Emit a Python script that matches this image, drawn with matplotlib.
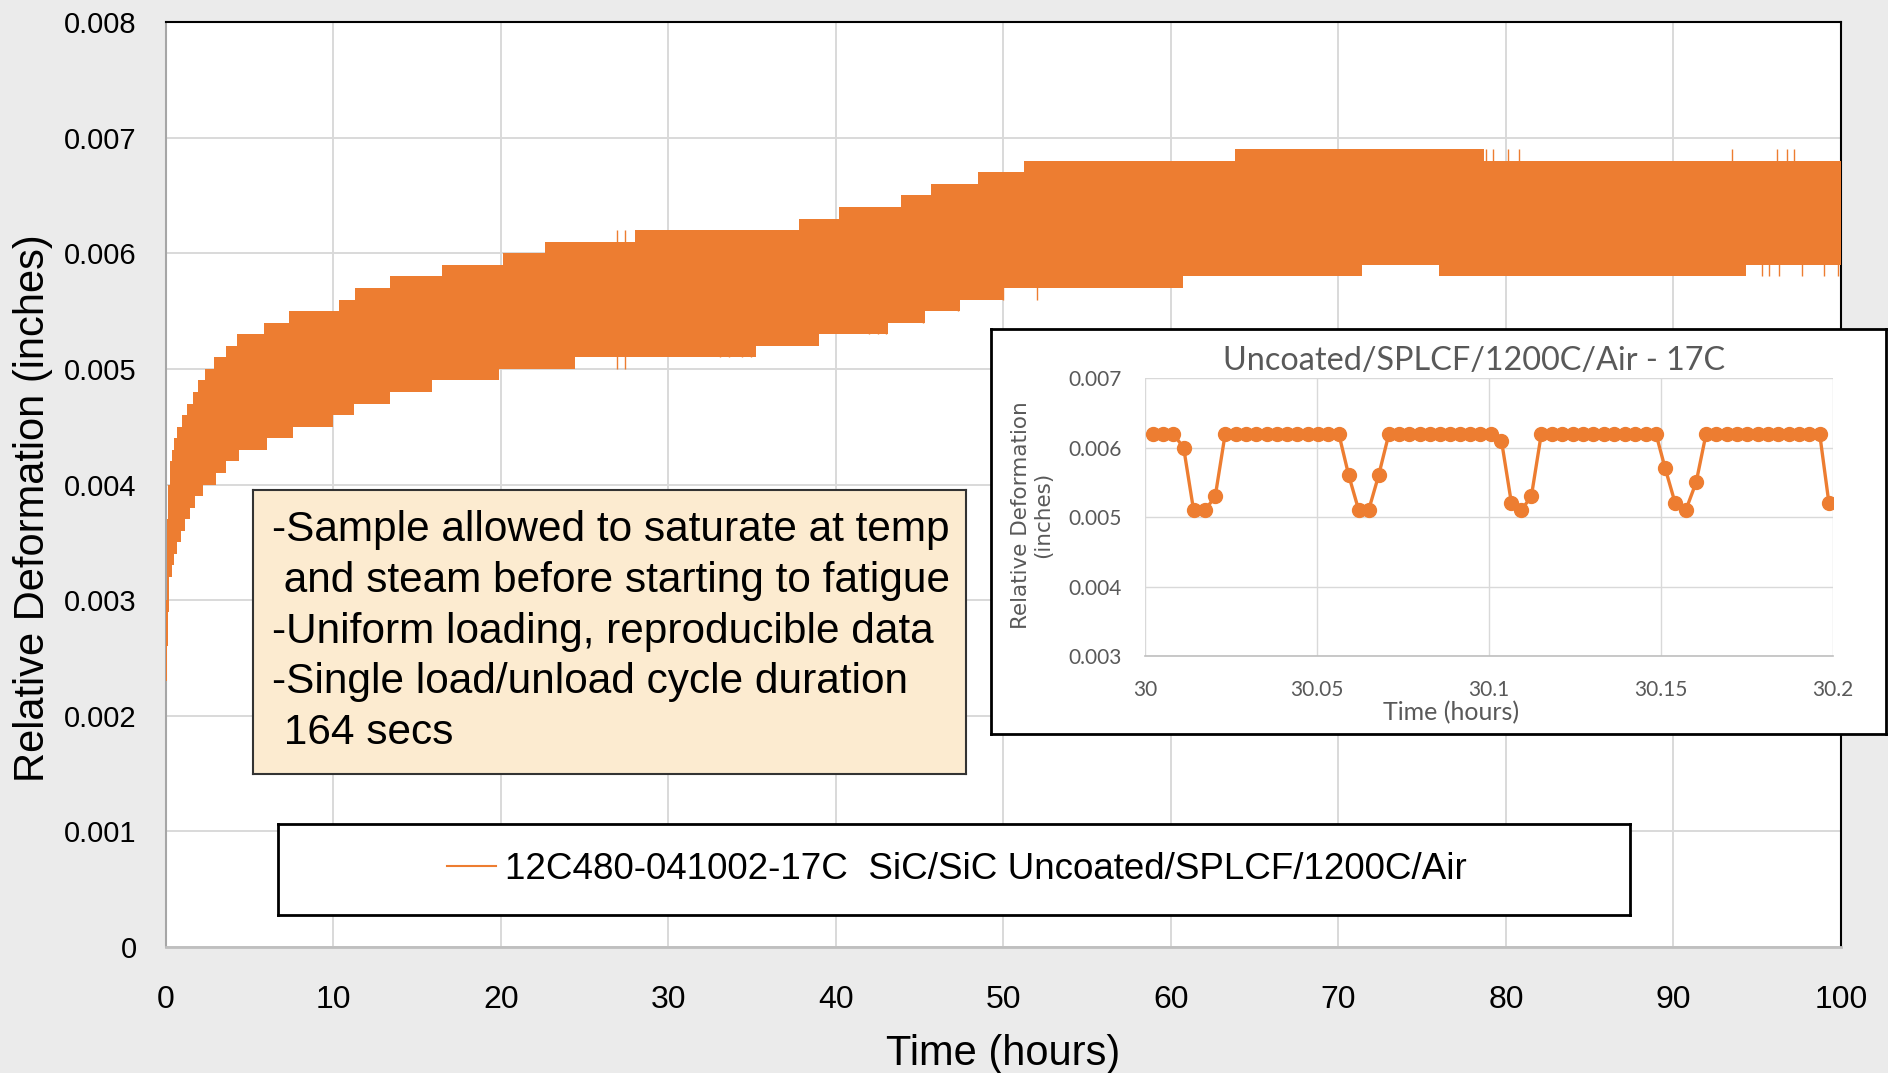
import numpy as np
import matplotlib.pyplot as plt
from matplotlib.lines import Line2D

# ── Hauptdiagramm: Hüllkurven des Bandes (Stufen) ──
upper_t = [0, 0.03, 0.08, 0.15, 0.25, 0.35, 0.5, 0.64, 0.94, 1.23, 1.59, 1.93,
           2.33, 2.88, 3.58, 4.22, 5.85, 7.36, 10.34, 11.28, 13.4, 16.5, 20.1,
           22.6, 28.0, 37.8, 40.2, 43.9, 45.7, 48.5, 51.2, 63.8, 78.7]
upper_v = [0.0023, 0.0030, 0.0037, 0.0040, 0.0042, 0.0043, 0.0044, 0.0045,
           0.0046, 0.0047, 0.0048, 0.0049, 0.0050, 0.0051, 0.0052, 0.0053,
           0.0054, 0.0055, 0.0056, 0.0057, 0.0058, 0.0059, 0.0060, 0.0061,
           0.0062, 0.0063, 0.0064, 0.0065, 0.0066, 0.0067, 0.0068, 0.0069, 0.0068]

lower_t = [0, 0.03, 0.08, 0.14, 0.2, 0.34, 0.5, 0.64, 0.88, 1.13, 1.43, 1.73,
           2.23, 2.96, 3.58, 4.38, 6.05, 7.56, 9.98, 11.2, 13.4, 15.9, 19.9,
           24.4, 35.2, 39.0, 43.1, 45.3, 47.4, 50.0, 60.7, 71.4, 76.0, 94.3]
lower_v = [0.0, 0.0023, 0.0026, 0.0029, 0.0032, 0.0033, 0.0034, 0.0035,
           0.0036, 0.0037, 0.0038, 0.0039, 0.0040, 0.0041, 0.0042, 0.0043,
           0.0044, 0.0045, 0.0046, 0.0047, 0.0048, 0.0049, 0.0050, 0.0051,
           0.0052, 0.0053, 0.0054, 0.0055, 0.0056, 0.0057, 0.0058, 0.0059,
           0.0058, 0.0059]

# einzelne Ausreißer-Zyklen (dünne Spitzen über/unter dem Band)
spike_t = [26.9, 27.4, 33.1, 33.6, 34.4, 34.9, 42.0, 42.5, 43.0, 45.2, 47.3,
           50.0, 52.0, 78.8, 79.2, 80.1, 80.8, 93.5, 96.2, 96.8, 97.2,
           95.3, 95.7, 96.3, 97.7, 99.0, 99.8]
spike_lo = [0.0050, 0.0050, 0.0051, 0.0051, 0.0051, 0.0051, 0.0053, 0.0053,
            0.0053, 0.0054, 0.0055, 0.0056, 0.0056, 0.0060, 0.0060, 0.0060,
            0.0060, 0.0060, 0.0060, 0.0060, 0.0060,
            0.0058, 0.0058, 0.0058, 0.0058, 0.0058, 0.0058]
spike_hi = [0.0062, 0.0062, 0.0062, 0.0062, 0.0062, 0.0062, 0.0064, 0.0064,
            0.0064, 0.0065, 0.0066, 0.0067, 0.0068, 0.0069, 0.0069, 0.0069,
            0.0069, 0.0069, 0.0069, 0.0069, 0.0069,
            0.0066, 0.0066, 0.0066, 0.0066, 0.0066, 0.0066]

t_end = 100.0
x_ticks = [0, 10, 20, 30, 40, 50, 60, 70, 80, 90, 100]
y_ticks = [0, 0.001, 0.002, 0.003, 0.004, 0.005, 0.006, 0.007, 0.008]
y_ticklabels = ["0", "0.001", "0.002", "0.003", "0.004", "0.005", "0.006",
                "0.007", "0.008"]

# ── Inset: 30.0 – 30.2 h ──
inset_t = [30.0022, 30.0052, 30.0081, 30.0112, 30.0141, 30.0175, 30.0204,
           30.0233, 30.0263, 30.0293, 30.0323, 30.0353, 30.0383, 30.0413,
           30.0443, 30.0473, 30.0503, 30.0533, 30.0563,
           30.0592, 30.0621, 30.0650, 30.0679,
           30.0709, 30.0739, 30.0768, 30.0798, 30.0827, 30.0857, 30.0887,
           30.0916, 30.0946, 30.0975, 30.1005,
           30.1036, 30.1065, 30.1094, 30.1123,
           30.1152, 30.1182, 30.1212, 30.1243, 30.1273, 30.1303, 30.1334,
           30.1364, 30.1394, 30.1424, 30.1455, 30.1485,
           30.1512, 30.1541, 30.1572, 30.1602,
           30.1631, 30.1661, 30.1691, 30.1721, 30.1751, 30.1781, 30.1811,
           30.1841, 30.1871, 30.1901, 30.1931, 30.1961,
           30.1988]
inset_v = [0.0062, 0.0062, 0.0062, 0.0060, 0.0051, 0.0051, 0.0053,
           0.0062, 0.0062, 0.0062, 0.0062, 0.0062, 0.0062, 0.0062,
           0.0062, 0.0062, 0.0062, 0.0062, 0.0062,
           0.0056, 0.0051, 0.0051, 0.0056,
           0.0062, 0.0062, 0.0062, 0.0062, 0.0062, 0.0062, 0.0062,
           0.0062, 0.0062, 0.0062, 0.0062,
           0.0061, 0.0052, 0.0051, 0.0053,
           0.0062, 0.0062, 0.0062, 0.0062, 0.0062, 0.0062, 0.0062,
           0.0062, 0.0062, 0.0062, 0.0062, 0.0062,
           0.0057, 0.0052, 0.0051, 0.0055,
           0.0062, 0.0062, 0.0062, 0.0062, 0.0062, 0.0062, 0.0062,
           0.0062, 0.0062, 0.0062, 0.0062, 0.0062,
           0.0052]
inset_xticks = [30, 30.05, 30.1, 30.15, 30.2]
inset_xticklabels = ["30", "30.05", "30.1", "30.15", "30.2"]
inset_yticks = [0.003, 0.004, 0.005, 0.006, 0.007]

series_label = "12C480-041002-17C  SiC/SiC Uncoated/SPLCF/1200C/Air"
inset_title = "Uncoated/SPLCF/1200C/Air - 17C"
note_lines = [
    "-Sample allowed to saturate at temp",
    " and steam before starting to fatigue",
    "-Uniform loading, reproducible data",
    "-Single load/unload cycle duration",
    " 164 secs",
]

ORANGE = "#ED7D31"
GRID = "#D9D9D9"
BG = "#EBEBEB"
GREY_TXT = "#595959"
MAIN_FONT = "Liberation Sans"
W, H = 1888, 1073


def step_eval(ts, vs, grid):
    idx = np.searchsorted(np.asarray(ts), grid, side="right") - 1
    return np.asarray(vs)[idx]


plt.rcParams["font.family"] = MAIN_FONT

fig = plt.figure(figsize=(W / 100, H / 100), dpi=100, facecolor=BG)

# ══════════════════════════════════════════════════════════════
#  Hauptachse
# ══════════════════════════════════════════════════════════════
ax = fig.add_axes([0.0879, 0.1174, 0.9751 - 0.0879, 0.9795 - 0.1174])
ax.set_facecolor("white")

t_grid = np.unique(np.concatenate([upper_t, lower_t, [t_end]]))
up = step_eval(upper_t, upper_v, t_grid)
lo = step_eval(lower_t, lower_v, t_grid)
ax.fill_between(t_grid, lo, up, step="post", color=ORANGE, linewidth=0,
                zorder=3)
ax.vlines(spike_t, spike_lo, spike_hi, color=ORANGE, linewidth=1.0, zorder=3)

ax.set_xlim(0, 100)
ax.set_ylim(0, 0.008)
ax.set_xticks(x_ticks)
ax.set_xticklabels([str(v) for v in x_ticks], fontsize=23)
ax.set_yticks(y_ticks)
ax.set_yticklabels(y_ticklabels, fontsize=21)
ax.tick_params(axis="x", length=0, pad=27)
ax.tick_params(axis="y", length=0, pad=21)
ax.grid(True, color=GRID, linewidth=1.4, zorder=0)
ax.set_axisbelow(True)

for side in ["top", "right"]:
    ax.spines[side].set_color("black")
    ax.spines[side].set_linewidth(1.5)
ax.spines["left"].set_color("#A6A6A6")
ax.spines["left"].set_linewidth(1.5)
ax.spines["bottom"].set_color("#BFBFBF")
ax.spines["bottom"].set_linewidth(2.0)

fig.text(1003 / W, 1 - 1054 / H, "Time (hours)", fontsize=30,
         ha="center", va="center")
fig.text(33 / W, 1 - 508 / H, "Relative Deformation (inches)",
         fontsize=30, rotation=90, ha="center", va="center")

# ══════════════════════════════════════════════════════════════
#  Textbox
# ══════════════════════════════════════════════════════════════
box = fig.add_axes([0.1340, 0.2787, 0.3776, 0.2647])
box.set_facecolor("#FCEBD0")
box.set_xticks([])
box.set_yticks([])
for sp in box.spines.values():
    sp.set_color("#333333")
    sp.set_linewidth(1.5)
box.text(0.027, 0.928, "\n".join(note_lines), fontsize=30.5,
         transform=box.transAxes, ha="left", va="top", linespacing=1.345)

# ══════════════════════════════════════════════════════════════
#  Legende (eigener Rahmen)
# ══════════════════════════════════════════════════════════════
leg_ax = fig.add_axes([0.1472, 0.1473, 0.7161, 0.0848])
leg_ax.set_facecolor("white")
leg_ax.set_xticks([])
leg_ax.set_yticks([])
for sp in leg_ax.spines.values():
    sp.set_color("black")
    sp.set_linewidth(2.0)
handle = Line2D([], [], color=ORANGE, linewidth=1.5)
leg_ax.legend([handle], [series_label], loc="center",
              bbox_to_anchor=(0.502, 0.5), frameon=False, fontsize=26.5,
              handlelength=1.33, handletextpad=0.25)

# ══════════════════════════════════════════════════════════════
#  Inset
# ══════════════════════════════════════════════════════════════
frame = fig.add_axes([0.5249, 0.3159, 0.4740, 0.3774])
frame.set_facecolor("white")
frame.set_xticks([])
frame.set_yticks([])
for sp in frame.spines.values():
    sp.set_color("black")
    sp.set_linewidth(2.0)

ins = fig.add_axes([0.6065, 0.3886, 0.3644, 0.2591])
ins.set_facecolor("white")
ins.plot(inset_t, inset_v, color=ORANGE, linewidth=2.4, marker="o",
         markersize=10, zorder=3)
ins.set_xlim(30, 30.2)
ins.set_ylim(0.003, 0.007)
ins.set_xticks(inset_xticks)
ins.set_xticklabels(inset_xticklabels, fontsize=15, color=GREY_TXT,
                    family="Lato")
ins.set_yticks(inset_yticks)
ins.set_yticklabels([f"{v:.3f}" for v in inset_yticks], fontsize=15,
                    color=GREY_TXT, family="Lato")
ins.tick_params(axis="x", length=0, pad=17)
ins.tick_params(axis="y", length=0, pad=17)
ins.grid(True, color=GRID, linewidth=1.0, zorder=0)
ins.set_axisbelow(True)
for side in ["top", "right", "left"]:
    ins.spines[side].set_visible(False)
ins.spines["bottom"].set_color("#BFBFBF")
ins.spines["bottom"].set_linewidth(1.2)

fig.text(1474 / W, 1 - 361 / H, inset_title, fontsize=23.3, color=GREY_TXT,
         family="Lato", ha="center", va="center")
fig.text(1451 / W, 1 - 713 / H, "Time (hours)", fontsize=18, color=GREY_TXT,
         family="Lato", ha="center", va="center")
fig.text(1032 / W, 1 - 515 / H, "Relative Deformation\n(inches)",
         fontsize=15.5, color=GREY_TXT, family="DejaVu Sans", rotation=90,
         ha="center", va="center", linespacing=1.1)

plt.savefig("out.png", dpi=100, facecolor=BG)
